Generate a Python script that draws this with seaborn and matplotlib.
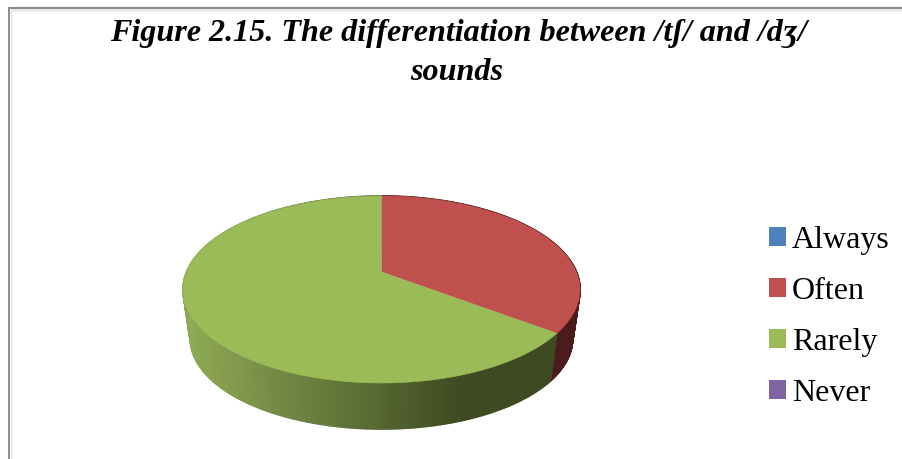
import numpy as np
import matplotlib
matplotlib.use("Agg")
import matplotlib.pyplot as plt
from matplotlib.collections import PolyCollection
from matplotlib.patches import Patch
from matplotlib.colors import to_rgb
import seaborn as sns

categories = ["Always", "Often", "Rarely", "Never"]
values = [0, 35.3, 64.7, 0]
colors = ["#4F81BD", "#C0504D", "#9BBB59", "#8064A2"]
title_lines = ["Figure 2.15. The differentiation between /tʃ/ and /dʒ/", "sounds"]

sns.set_theme(style="white")
plt.rcParams["font.family"] = ["Liberation Serif", "DejaVu Serif"]

fig = plt.figure(figsize=(9.03, 4.59), dpi=100)
ax = fig.add_axes([0, 0, 1, 1])
ax.set_xlim(0, 903)
ax.set_ylim(459, 0)
ax.axis("off")
palette = sns.color_palette(colors)


def projector(cx, top, bottom, apex, rx):
    """Perspective view of the unit pie disc."""
    c = (bottom + top - 2 * apex) / (bottom - top)
    a = top * (1 + c) - apex
    sx = rx * np.sqrt(1 - c ** 2)

    def project(theta):
        u, v = np.sin(theta), np.cos(theta)
        w = c * v + 1
        return cx + sx * u / w, (a * v + apex) / w

    return project


apex_x, apex_y = 381.5, 272
top_face = projector(apex_x, 196, 383, apex_y, 198.5)
bottom_face = projector(apex_x, 249, 429, 322, 191)

shares = np.array(values, dtype=float) / sum(values)
edges = np.concatenate([[0], np.cumsum(shares)]) * 2 * np.pi

wall_dark = {"#C0504D": ("#5A2222", "#4C1B1B"), "#9BBB59": ("#8EAA55", "#3E4A21")}

# side walls (drawn first; the top face covers the rear part)
for k, col in enumerate(colors):
    if shares[k] == 0:
        continue
    th = np.linspace(edges[k], edges[k + 1], 240)
    xt, yt = top_face(th)
    xb, yb = bottom_face(th)
    quads, fc = [], []
    light, dark = (to_rgb(c) for c in wall_dark[col])
    for i in range(len(th) - 1):
        quads.append([(xt[i], yt[i]), (xt[i + 1], yt[i + 1]), (xb[i + 1], yb[i + 1]), (xb[i], yb[i])])
        f = np.clip((xt[i] - 185) / (465 - 185), 0, 1)
        fc.append(tuple(np.array(light) * (1 - f) + np.array(dark) * f))
    ax.add_collection(PolyCollection(quads, facecolors=fc, edgecolors=fc, linewidths=1.2))

# top face
for k, col in enumerate(palette):
    if shares[k] == 0:
        continue
    th = np.linspace(edges[k], edges[k + 1], 240)
    x, y = top_face(th)
    ax.fill(np.r_[apex_x, x], np.r_[apex_y, y], color=col, lw=0.4, zorder=3)

# frame with a faint shadow
ax.plot([11, 903], [9.6, 9.6], color="#E2E2E2", lw=1.0, zorder=4)
ax.plot([10.6, 10.6], [10, 459], color="#E2E2E2", lw=1.0, zorder=4)
ax.plot([9, 903], [8, 8], color="#8C8C8C", lw=1.6, zorder=5)
ax.plot([9, 9], [8, 459], color="#8C8C8C", lw=1.4, zorder=5)

ax.text(458.5, 34, title_lines[0], ha="center", va="center",
        fontsize=23.1, fontweight="bold", fontstyle="italic", color="black")
ax.text(457, 72, title_lines[1], ha="center", va="center",
        fontsize=23.1, fontweight="bold", fontstyle="italic", color="black")

handles = [Patch(facecolor=c, edgecolor="none", label=n) for n, c in zip(categories, colors)]
ax.legend(handles=handles, loc="center left", bbox_to_anchor=(769 / 903, 1 - 317 / 459),
          frameon=False, fontsize=23, handlelength=0.52, handleheight=0.52,
          handletextpad=0.2, labelspacing=0.69, borderpad=0, borderaxespad=0, labelcolor="black")

fig.savefig("out.png", dpi=100, facecolor="white")
